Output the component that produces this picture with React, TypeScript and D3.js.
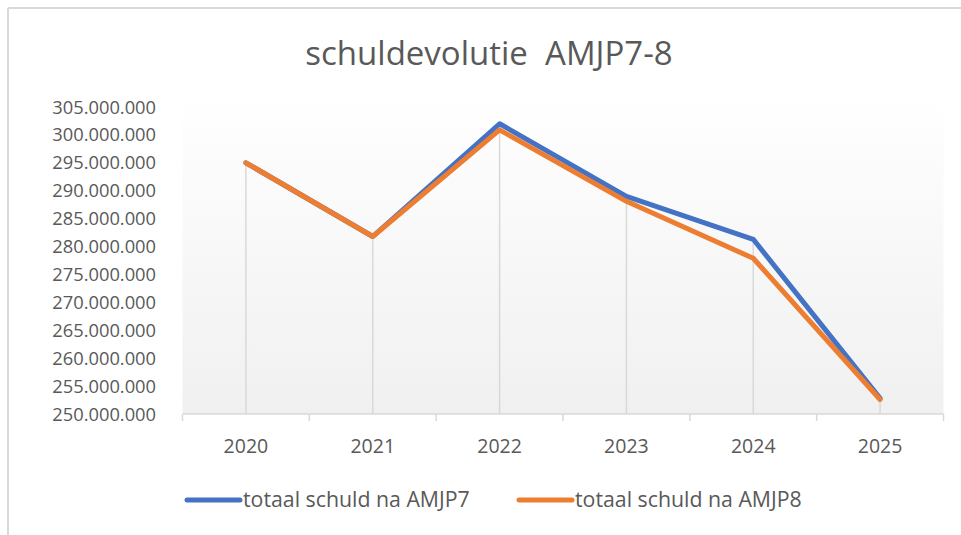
import React from "react";
import * as d3 from "d3";

const years = ["2020", "2021", "2022", "2023", "2024", "2025"];
const amjp7 = [295.0, 281.8, 302.0, 289.0, 281.3, 252.8];
const amjp8 = [295.0, 281.8, 300.9, 288.1, 277.9, 252.6];
const yTicks = [250, 255, 260, 265, 270, 275, 280, 285, 290, 295, 300, 305];

const seriesNames = ["totaal schuld na AMJP7", "totaal schuld na AMJP8"];
const seriesColors = ["#4472C4", "#ED7D31"];

const W = 961;
const H = 535;
const plot = { left: 182.5, right: 943.5, top: 107, bottom: 414 };
const font = "'Open Sans', sans-serif";
const textColor = "#595959";

const fmt = (v: number) => d3.format(",")(v * 1e6).replace(/,/g, ".");

const App = () => {
  const x = d3
    .scaleBand()
    .domain(years)
    .range([plot.left, plot.right])
    .padding(0);
  const y = d3
    .scaleLinear()
    .domain([250, 305])
    .range([plot.bottom, plot.top]);

  const line = d3
    .line<number>()
    .x((_, i) => x(years[i])! + x.bandwidth() / 2)
    .y((d) => y(d));

  const series = [amjp7, amjp8];
  const boundaries = years.map((yr) => x(yr)!).concat([plot.right]);

  return (
    <svg
      width={W}
      height={H}
      style={{ position: "absolute", left: 0, top: 0, background: "#fff" }}
    >
      <defs>
        <linearGradient id="plotBg" x1="0" y1="0" x2="0" y2="1">
          <stop offset="0" stopColor="#ffffff" />
          <stop offset="1" stopColor="#f0f0f0" />
        </linearGradient>
      </defs>
      <rect x={0} y={0} width={W} height={H} fill="#fff" />
      {/* chart frame: only top and left edges are visible */}
      <line x1={8} y1={8} x2={W} y2={8} stroke="#d9d9d9" strokeWidth={2} />
      <line x1={8} y1={8} x2={8} y2={H} stroke="#d9d9d9" strokeWidth={2} />

      <text
        x={489}
        y={65}
        textAnchor="middle"
        fontFamily={font}
        fontSize={33}
        fill={textColor}
        style={{ whiteSpace: "pre" }}
      >
        {"schuldevolutie  AMJP7-8"}
      </text>

      <rect
        x={plot.left}
        y={95}
        width={plot.right - plot.left}
        height={plot.bottom - 95}
        fill="url(#plotBg)"
      />

      {/* drop lines from the highest point to the axis */}
      {years.map((yr, i) => {
        const cx = x(yr)! + x.bandwidth() / 2;
        const top = Math.max(amjp7[i], amjp8[i]);
        return (
          <line
            key={yr}
            x1={cx}
            x2={cx}
            y1={y(top)}
            y2={plot.bottom}
            stroke="#d9d9d9"
            strokeWidth={1.5}
          />
        );
      })}

      {/* x axis */}
      <line
        x1={plot.left}
        x2={plot.right}
        y1={plot.bottom}
        y2={plot.bottom}
        stroke="#d9d9d9"
        strokeWidth={1.5}
      />
      {boundaries.map((bx, i) => (
        <line
          key={i}
          x1={bx}
          x2={bx}
          y1={plot.bottom}
          y2={plot.bottom + 7}
          stroke="#d9d9d9"
          strokeWidth={1.5}
        />
      ))}
      {years.map((yr) => (
        <text
          key={yr}
          x={x(yr)! + x.bandwidth() / 2}
          y={453}
          textAnchor="middle"
          fontFamily={font}
          fontSize={19.5}
          fill={textColor}
        >
          {yr}
        </text>
      ))}

      {/* y labels */}
      {yTicks.map((t) => (
        <text
          key={t}
          x={156}
          y={y(t)}
          dy="0.36em"
          textAnchor="end"
          fontFamily={font}
          fontSize={18.3}
          fill={textColor}
        >
          {fmt(t)}
        </text>
      ))}

      {series.map((s, i) => (
        <path
          key={i}
          d={line(s) ?? ""}
          fill="none"
          stroke={seriesColors[i]}
          strokeWidth={5}
          strokeLinejoin="round"
          strokeLinecap="round"
        />
      ))}

      {/* legend */}
      {seriesNames.map((name, i) => {
        const lx = i === 0 ? 187 : 519;
        return (
          <g key={name}>
            <line
              x1={lx}
              x2={lx + 53}
              y1={500}
              y2={500}
              stroke={seriesColors[i]}
              strokeWidth={5}
              strokeLinecap="round"
            />
            <text
              x={lx + 56}
              y={507}
              fontFamily={font}
              fontSize={21.3}
              fill={textColor}
            >
              {name}
            </text>
          </g>
        );
      })}
    </svg>
  );
};

export default App;
